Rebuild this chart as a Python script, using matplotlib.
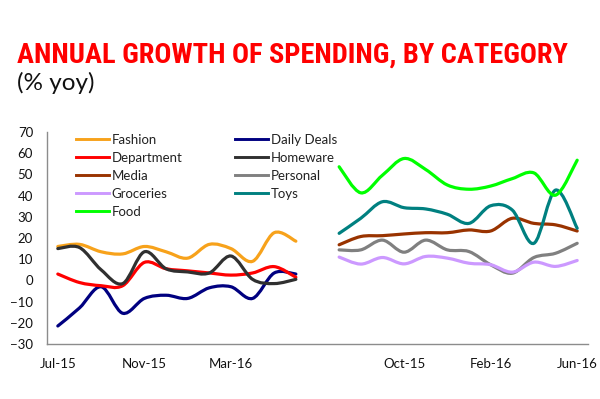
import numpy as np
import matplotlib.pyplot as plt
from matplotlib.path import Path
from matplotlib.patches import PathPatch
from matplotlib.lines import Line2D

# categorias (mesmo periodo nos dois blocos do grafico)
meses = ['Jul-15', 'Aug-15', 'Sep-15', 'Oct-15', 'Nov-15', 'Dec-15',
         'Jan-16', 'Feb-16', 'Mar-16', 'Apr-16', 'May-16', 'Jun-16']

# bloco da esquerda
fashion = [16, 17, 13.5, 12.5, 16, 13.5, 10.5, 17, 15, 9, 22.5, 18.5]
daily_deals = [-21.5, -13, -3, -15.5, -8.5, -7, -8.5, -3.5, -3, -8.5, 3.5, 3]
department = [3, -1, -2.5, -2.5, 8.5, 5.5, 4.5, 3.5, 2.5, 3.5, 6.5, 1.5]
homeware = [15, 15.5, 5, -1.5, 13.5, 5.5, 4, 3.5, 11.5, 0.5, -1.5, 0.5]

# bloco da direita
media = [16.8, 20.7, 21.1, 21.9, 22.5, 22.5, 23.8, 23.3, 29.3, 26.9, 26.2, 23.3]
personal = [14.4, 14.4, 19, 13.3, 19, 14.4, 13.6, 7.4, 3.4, 10.8, 12.8, 17.5]
groceries = [11, 7.7, 10.8, 7.8, 11.3, 10.5, 8.1, 7.4, 3.9, 8.6, 6.6, 9.4]
toys = [22.2, 29.3, 37.1, 34.3, 33.7, 31.2, 26.9, 35.2, 33.2, 17.5, 42.6, 24.6]
food = [53.6, 41.3, 49.6, 57.5, 52.3, 45, 43, 44.5, 48, 50.7, 40.2, 56.7]

# posicoes no eixo de categorias: 0-11 esquerda, 12 vazio, 13-24 direita
x_esq = np.arange(len(meses))
x_dir = np.arange(len(meses)) + len(meses) + 1
rotulos_x = ['Jul-15', 'Nov-15', 'Mar-16', 'Oct-15', 'Feb-16', 'Jun-16']
pos_rotulos_x = [0, 4, 8, 16, 20, 24]

series = [
    ('Fashion', fashion, x_esq, '#F7A21B'),
    ('Daily Deals', daily_deals, x_esq, '#000080'),
    ('Department', department, x_esq, '#FF0000'),
    ('Homeware', homeware, x_esq, '#303030'),
    ('Media', media, x_dir, '#993300'),
    ('Personal', personal, x_dir, '#808080'),
    ('Groceries', groceries, x_dir, '#CC99FF'),
    ('Toys', toys, x_dir, '#008080'),
    ('Food', food, x_dir, '#00FF00'),
]


def linha_suave(x, y):
    # curva suavizada tipo Excel (Catmull-Rom em Bezier)
    pts = np.column_stack([x, y]).astype(float)
    n = len(pts)
    verts = [pts[0]]
    codes = [Path.MOVETO]
    for i in range(n - 1):
        p0 = pts[max(i - 1, 0)]
        p1 = pts[i]
        p2 = pts[i + 1]
        p3 = pts[min(i + 2, n - 1)]
        verts += [p1 + (p2 - p0) / 6, p2 - (p3 - p1) / 6, p2]
        codes += [Path.CURVE4] * 3
    return Path(verts, codes)


fig = plt.figure(figsize=(6, 3.99), dpi=100)
ax = fig.add_axes([47 / 600, 55 / 399, 541 / 600, 212 / 399])

handles = {}
for nome, valores, xs, cor in series:
    ax.add_patch(PathPatch(linha_suave(xs, valores), facecolor='none',
                           edgecolor=cor, lw=2.3, capstyle='round'))
    handles[nome] = Line2D([], [], color=cor, lw=2.1)

ax.set_xlim(-0.5, 24.5)
ax.set_ylim(-30, 70)
ax.set_yticks(range(-30, 71, 10))
ax.set_xticks(pos_rotulos_x)
ax.set_xticklabels(rotulos_x)
ax.tick_params(length=0, labelsize=9.5, colors='#111111', labelfontfamily='Lato')
ax.tick_params(axis='x', pad=10)
ax.tick_params(axis='y', pad=10)
for lado in ['top', 'right']:
    ax.spines[lado].set_visible(False)
for lado in ['left', 'bottom']:
    ax.spines[lado].set_color('#8c8c8c')
    ax.spines[lado].set_linewidth(1)

opcoes_leg = dict(loc='upper left', bbox_transform=fig.transFigure, frameon=False,
                  borderpad=0, borderaxespad=0, handlelength=2.5, handletextpad=0.2,
                  labelspacing=0.45, prop={'family': 'Lato', 'size': 9.5})
col1 = ['Fashion', 'Department', 'Media', 'Groceries', 'Food']
col2 = ['Daily Deals', 'Homeware', 'Personal', 'Toys']
leg1 = ax.legend([handles[n] for n in col1], col1,
                 bbox_to_anchor=(76 / 600, 1 - 134 / 399), **opcoes_leg)
ax.add_artist(leg1)
leg2 = ax.legend([handles[n] for n in col2], col2,
                 bbox_to_anchor=(235 / 600, 1 - 134 / 399), **opcoes_leg)
for leg in (leg1, leg2):
    for t in leg.get_texts():
        t.set_color('#222222')

fontes_titulo = ['Noto Sans ExtraCondensed', 'Noto Sans Condensed', 'Roboto Condensed',
                 'Liberation Sans Narrow', 'DejaVu Sans Condensed', 'Lato']
titulo = fig.text(17 / 600, 1 - 62.7 / 399, 'ANNUAL GROWTH OF SPENDING, BY CATEGORY',
                  color='#FF0000', fontsize=24, fontweight='bold',
                  family=fontes_titulo, fontstretch='condensed', va='baseline')
fig.text(17 / 600, 1 - 89.5 / 399, '(% yoy)', fontsize=17.5, family='Lato',
         color='#111111', va='baseline')

# ajusta o titulo para ocupar a mesma largura do original
r = fig.canvas.get_renderer()
largura = titulo.get_window_extent(r).width
titulo.set_fontsize(min(24 * 551 / largura, 30))

fig.savefig('out.png', dpi=100)
